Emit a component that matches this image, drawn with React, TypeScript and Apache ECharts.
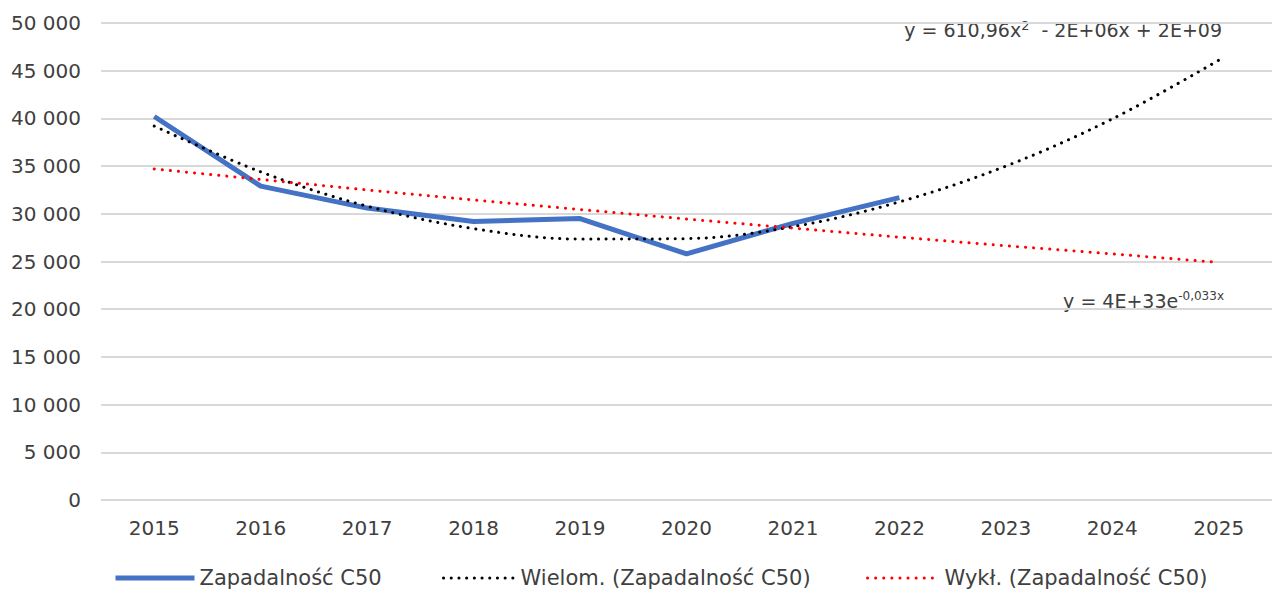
import React, { useEffect, useRef } from "react";
import * as echarts from "echarts";

const years = ["2015", "2016", "2017", "2018", "2019", "2020", "2021", "2022", "2023", "2024", "2025"];
const incidence = [40200, 32900, 30600, 29200, 29500, 25800, 29000, 31700];
const polyTrend = [39200, 34400, 30800, 28450, 27350, 27400, 28650, 31250, 35000, 39950, 46100];
const expTrend = [34700, 33600, 32500, 31450, 30450, 29450, 28500, 27550, 26650, 25800, 24900];

const seriesNames = ["Zapadalność C50", "Wielom. (Zapadalność C50)", "Wykł. (Zapadalność C50)"];

const FONT = "DejaVu Sans";
const TEXT = "#404040";

function fmt(v: number): string {
  if (v < 1000) return String(v);
  return Math.floor(v / 1000) + " " + String(v % 1000).padStart(3, "0");
}

export default function App() {
  const ref = useRef<HTMLDivElement>(null);
  useEffect(() => {
    if (!ref.current) return;
    const chart = echarts.init(ref.current, undefined, { renderer: "svg" });
    const legendBase = {
      top: 567,
      padding: 0,
      itemHeight: 20,
      textStyle: { fontFamily: FONT, fontSize: 21, color: TEXT, lineHeight: 22 },
      itemStyle: { color: "rgba(0,0,0,0)", borderWidth: 0, opacity: 0 },
      selectedMode: false,
    };
    chart.setOption({
      animation: false,
      backgroundColor: "#ffffff",
      grid: { left: 101, right: 0, top: 23, bottom: 91, containLabel: false },
      xAxis: {
        type: "category",
        data: years,
        boundaryGap: true,
        axisLine: { show: false },
        axisTick: { show: false },
        axisLabel: { fontFamily: FONT, fontSize: 20, color: TEXT, margin: 18 },
      },
      yAxis: {
        type: "value",
        min: 0,
        max: 50000,
        interval: 5000,
        axisLine: { show: false },
        axisTick: { show: false },
        axisLabel: { fontFamily: FONT, fontSize: 20, color: TEXT, margin: 20, formatter: (v: number) => fmt(v) },
        splitLine: { lineStyle: { color: "#d9d9d9", width: 2 } },
      },
      legend: [
        { ...legendBase, left: 113, itemWidth: 79, data: [seriesNames[0]], lineStyle: { width: 5 } },
        { ...legendBase, left: 442, itemWidth: 72, data: [seriesNames[1]], lineStyle: { width: 3 } },
        { ...legendBase, left: 866, itemWidth: 72, data: [seriesNames[2]], lineStyle: { width: 3 } },
      ],
      series: [
        {
          name: seriesNames[0],
          type: "line",
          data: incidence,
          symbol: "none",
          lineStyle: { color: "#4472c4", width: 5, join: "round" },
          itemStyle: { color: "#4472c4" },
        },
        {
          name: seriesNames[1],
          type: "line",
          data: polyTrend,
          symbol: "none",
          smooth: 0.35,
          lineStyle: { color: "#000000", width: 3, type: [0.1, 7.6], cap: "round" },
          itemStyle: { color: "#000000" },
        },
        {
          name: seriesNames[2],
          type: "line",
          data: expTrend,
          symbol: "none",
          lineStyle: { color: "#ff0000", width: 3, type: [0.1, 8], cap: "round" },
          itemStyle: { color: "#ff0000" },
        },
      ],
      graphic: [
        {
          type: "text",
          x: 1222,
          y: 30,
          style: {
            text: "{a|y = 610,96x}{s|2}{a|  - 2E+06x + 2E+09}",
            align: "right",
            verticalAlign: "middle",
            rich: {
              a: { fontFamily: FONT, fontSize: 19, fill: TEXT, color: TEXT, lineHeight: 22 },
              s: { fontFamily: FONT, fontSize: 13, fill: TEXT, color: TEXT, lineHeight: 13, verticalAlign: "top" },
            },
          },
        },
        {
          type: "text",
          x: 1224,
          y: 301,
          style: {
            text: "{a|y = 4E+33e}{s|-0,033x}",
            align: "right",
            verticalAlign: "middle",
            rich: {
              a: { fontFamily: FONT, fontSize: 19, fill: TEXT, color: TEXT, lineHeight: 22 },
              s: { fontFamily: FONT, fontSize: 12, fill: TEXT, color: TEXT, lineHeight: 12, verticalAlign: "top" },
            },
          },
        },
      ],
    });
    return () => chart.dispose();
  }, []);
  return <div ref={ref} style={{ position: "fixed", left: 0, top: 0, width: 1272, height: 591 }} />;
}
